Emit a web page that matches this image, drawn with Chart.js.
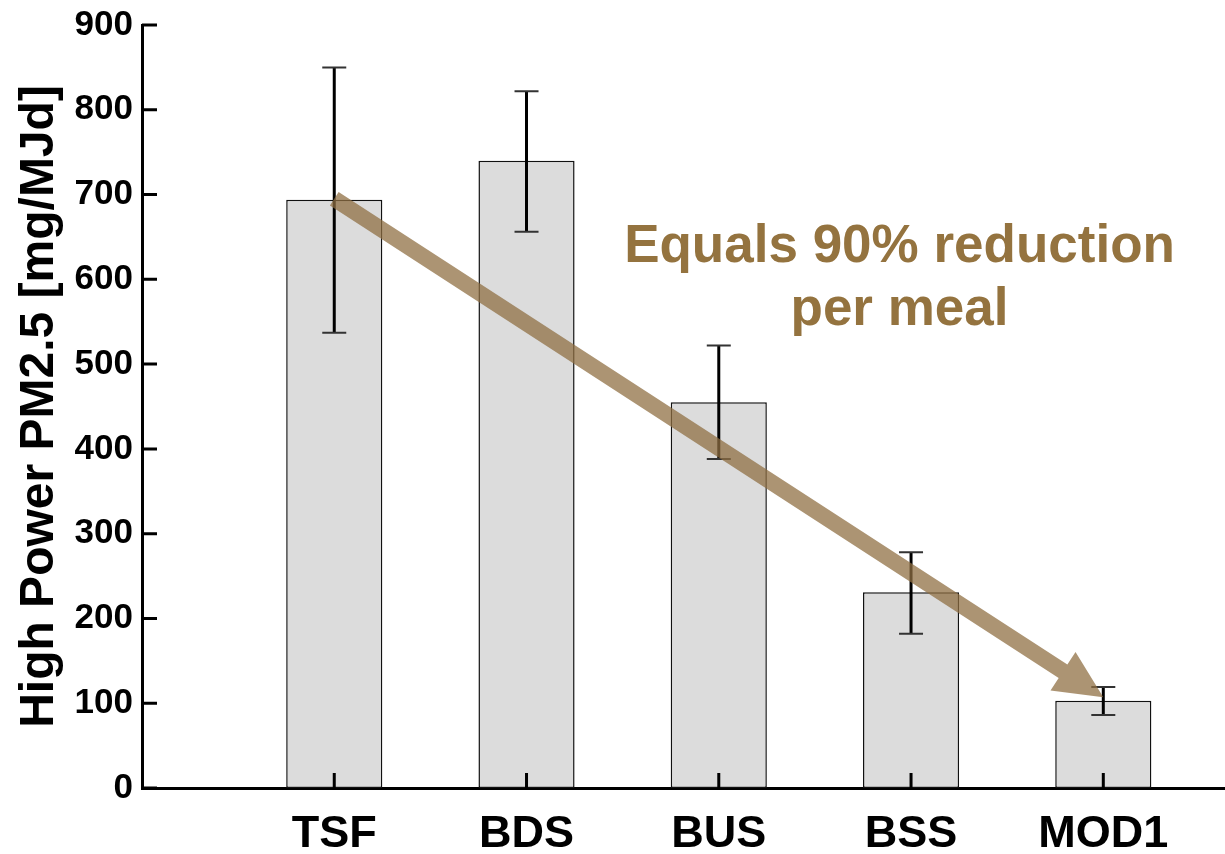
<!DOCTYPE html>
<html>
<head>
<meta charset="utf-8">
<title>High Power PM2.5</title>
<script src="https://cdn.jsdelivr.net/npm/chart.js@4.4.1/dist/chart.umd.min.js"></script>
<style>
  html, body { margin: 0; padding: 0; background: #ffffff; overflow: hidden; }
  canvas { display: block; }
</style>
</head>
<body>
<canvas id="chart" width="1225" height="854"></canvas>
<script>
// Stove types and their mean high-power PM2.5 emission factors (mg/MJd)
const categories = ['TSF', 'BDS', 'BUS', 'BSS', 'MOD1'];
const meanValues = [694, 740, 455, 231, 103];
const errorHigh = [850, 822, 522, 278, 119];
const errorLow = [537, 656, 388, 182, 86];

// Value axis
const yMin = 0;
const yMax = 900;
const yStep = 100;

// Annotation: arrow from the TSF bar down to MOD1, plus its caption
const arrowFrom = { x: 1, y: 695 };
const arrowTo = { x: 5, y: 107 };
const noteLines = ['Equals 90% reduction', 'per meal'];
const noteAnchor = { x: 3.94, y: 620 };

const FONT = '"Liberation Sans", Arial, Helvetica, sans-serif';
const BROWN = '#94733f';
const ARROW_FILL = 'rgba(143, 110, 66, 0.74)';

const barData = meanValues.map((v, i) => ({ x: i + 1, y: v }));

// Error bars, inward tick marks and the arrow annotation
const overlayPlugin = {
  id: 'overlay',
  afterDatasetsDraw(chart) {
    const { ctx, scales: { x, y }, chartArea } = chart;
    ctx.save();

    // error bars
    categories.forEach((c, i) => {
      const px = x.getPixelForValue(i + 1);
      const top = y.getPixelForValue(errorHigh[i]);
      const bot = y.getPixelForValue(errorLow[i]);
      ctx.strokeStyle = '#000';
      ctx.lineWidth = 3;
      ctx.beginPath();
      ctx.moveTo(px, top);
      ctx.lineTo(px, bot);
      ctx.stroke();
      ctx.lineWidth = 2;
      ctx.strokeStyle = '#333';
      ctx.beginPath();
      ctx.moveTo(px - 12, top);
      ctx.lineTo(px + 12, top);
      ctx.moveTo(px - 12, bot);
      ctx.lineTo(px + 12, bot);
      ctx.stroke();
    });

    // inward tick marks
    ctx.lineWidth = 3;
    ctx.strokeStyle = '#000';
    ctx.beginPath();
    categories.forEach((c, i) => {
      const px = x.getPixelForValue(i + 1);
      ctx.moveTo(px, chartArea.bottom);
      ctx.lineTo(px, chartArea.bottom - 15);
    });
    for (let v = yMin; v <= yMax; v += yStep) {
      const py = y.getPixelForValue(v);
      ctx.moveTo(chartArea.left, py);
      ctx.lineTo(chartArea.left + 15, py);
    }
    ctx.stroke();

    // arrow
    const sx = x.getPixelForValue(arrowFrom.x), sy = y.getPixelForValue(arrowFrom.y);
    const ex = x.getPixelForValue(arrowTo.x), ey = y.getPixelForValue(arrowTo.y);
    const len = Math.hypot(ex - sx, ey - sy);
    const ux = (ex - sx) / len, uy = (ey - sy) / len;
    const nx = -uy, ny = ux;
    const shaft = 8, head = 23, headLen = 48;
    const bx = ex - ux * headLen, by = ey - uy * headLen;
    ctx.fillStyle = ARROW_FILL;
    ctx.beginPath();
    ctx.moveTo(sx + nx * shaft, sy + ny * shaft);
    ctx.lineTo(bx + nx * shaft, by + ny * shaft);
    ctx.lineTo(bx + nx * head, by + ny * head);
    ctx.lineTo(ex, ey);
    ctx.lineTo(bx - nx * head, by - ny * head);
    ctx.lineTo(bx - nx * shaft, by - ny * shaft);
    ctx.lineTo(sx - nx * shaft, sy - ny * shaft);
    ctx.closePath();
    ctx.fill();

    // caption
    const tx = x.getPixelForValue(noteAnchor.x);
    const ty = y.getPixelForValue(noteAnchor.y);
    ctx.fillStyle = BROWN;
    ctx.font = 'bold 53px ' + FONT;
    ctx.textAlign = 'center';
    ctx.textBaseline = 'alphabetic';
    noteLines.forEach((t, i) => ctx.fillText(t, tx, ty + i * 63));

    ctx.restore();
  }
};

new Chart(document.getElementById('chart'), {
  type: 'bar',
  data: {
    datasets: [{
      data: barData,
      backgroundColor: '#dcdcdc',
      borderColor: '#111',
      borderWidth: 1.5,
      borderSkipped: false,
      categoryPercentage: 0.5,
      barPercentage: 1.0
    }]
  },
  options: {
    responsive: false,
    animation: false,
    layout: { padding: { top: 25, left: 0, right: 0, bottom: 0 } },
    plugins: {
      legend: { display: false },
      tooltip: { enabled: false }
    },
    scales: {
      x: {
        type: 'linear',
        offset: false,
        min: 0,
        max: 5.633,
        grid: { display: false, drawTicks: false },
        border: { display: true, color: '#000', width: 3 },
        ticks: {
          stepSize: 1,
          includeBounds: false,
          autoSkip: false,
          maxRotation: 0,
          padding: 20,
          color: '#000',
          font: { family: FONT, size: 45, weight: 'bold' },
          callback: (v) => categories[v - 1] || ''
        },
        afterFit(scale) { scale.height = 66; }
      },
      y: {
        min: yMin,
        max: yMax,
        grid: { display: false, drawTicks: false },
        border: { display: true, color: '#000', width: 3 },
        ticks: {
          stepSize: yStep,
          padding: 9,
          color: '#000',
          font: { family: FONT, size: 35, weight: 'bold', lineHeight: 0.9 }
        },
        title: {
          display: true,
          text: 'High Power PM2.5 [mg/MJd]',
          color: '#000',
          font: { family: FONT, size: 48, weight: 'bold' },
          padding: { top: 11, bottom: 0 }
        },
        afterFit(scale) { scale.width = 142; }
      }
    }
  },
  plugins: [overlayPlugin]
});
</script>
</body>
</html>
